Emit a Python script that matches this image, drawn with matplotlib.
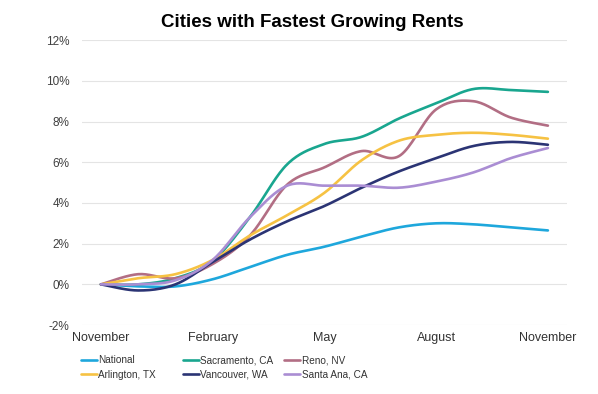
import matplotlib.pyplot as plt
import numpy as np

# monthly rent growth (%) since November
months = list(range(13))
tick_months = [0, 3, 6, 9, 12]
tick_labels = ["November", "February", "May", "August", "November"]

national = [0, -0.1, -0.1, 0.25, 0.85, 1.45, 1.85, 2.35, 2.8, 3.0, 2.95, 2.8, 2.65]
sacramento = [0, 0.0, 0.3, 1.15, 3.3, 5.9, 6.9, 7.25, 8.15, 8.9, 9.6, 9.55, 9.46]
reno = [0, 0.5, 0.3, 1.0, 2.4, 4.9, 5.75, 6.55, 6.3, 8.6, 9.0, 8.2, 7.8]
arlington = [0, 0.3, 0.5, 1.2, 2.4, 3.4, 4.5, 6.1, 7.06, 7.35, 7.45, 7.35, 7.16]
vancouver = [0, -0.3, 0.0, 1.1, 2.2, 3.1, 3.85, 4.75, 5.55, 6.2, 6.8, 7.0, 6.86]
santa_ana = [0, 0.0, 0.2, 1.2, 3.3, 4.85, 4.85, 4.85, 4.75, 5.05, 5.5, 6.2, 6.7]

series = [
    ("National", national, "#1ea7dc"),
    ("Sacramento, CA", sacramento, "#19a68f"),
    ("Reno, NV", reno, "#b26e84"),
    ("Arlington, TX", arlington, "#f6c243"),
    ("Vancouver, WA", vancouver, "#2b3474"),
    ("Santa Ana, CA", santa_ana, "#aa8dd3"),
]


# smooth the line through the points like a spreadsheet "smoothed line"
def smooth(x, y, steps=20):
    x = np.asarray(x, float)
    y = np.asarray(y, float)
    px = np.concatenate([[x[0]], x, [x[-1]]])
    py = np.concatenate([[y[0]], y, [y[-1]]])
    t = np.linspace(0, 1, steps, endpoint=False)
    xs, ys = [], []
    for i in range(1, len(px) - 2):
        for p, out in ((px, xs), (py, ys)):
            p0, p1, p2, p3 = p[i - 1], p[i], p[i + 1], p[i + 2]
            out.extend(0.5 * (2 * p1 + (-p0 + p2) * t
                              + (2 * p0 - 5 * p1 + 4 * p2 - p3) * t ** 2
                              + (-p0 + 3 * p1 - 3 * p2 + p3) * t ** 3))
    xs.append(x[-1])
    ys.append(y[-1])
    return xs, ys


plt.rcParams["font.family"] = ["Liberation Sans", "DejaVu Sans"]

fig = plt.figure(figsize=(5.98, 3.94), dpi=100)
ax = fig.add_axes([0.137, 0.175, 0.811, 0.723])

handles = []
for name, vals, color in series:
    sx, sy = smooth(months, vals)
    line, = ax.plot(sx, sy, color=color, lw=1.9, label=name,
                    solid_capstyle="round")
    handles.append(line)

ax.set_xlim(-0.51, 12.51)
ax.set_ylim(-2, 12)
ax.set_yticks(range(-2, 13, 2))
ax.set_yticklabels([f"{v}%" for v in range(-2, 13, 2)])
ax.set_xticks(tick_months)
ax.set_xticklabels(tick_labels)
ax.tick_params(axis="y", length=0, pad=9, labelsize=8.5, labelcolor="#404040")
ax.tick_params(axis="x", length=0, pad=5, labelsize=9, labelcolor="#333333")
ax.grid(axis="y", color="#e4e4e4", lw=0.8)
ax.set_axisbelow(True)
for s in ax.spines.values():
    s.set_visible(False)

fig.suptitle("Cities with Fastest Growing Rents", fontsize=13.5,
             fontweight="bold", x=0.522, y=0.965)

# legend in three columns below the axis
col_x = [0.135, 0.306, 0.475]
for c in range(3):
    fig.legend(handles=[handles[c], handles[c + 3]], loc="upper left",
               bbox_to_anchor=(col_x[c], 0.098), frameon=False, fontsize=7.2,
               handlelength=1.6, handletextpad=0.15, labelspacing=0.45,
               borderpad=0, borderaxespad=0, labelcolor="#333333")

fig.savefig("out.png", dpi=100)
